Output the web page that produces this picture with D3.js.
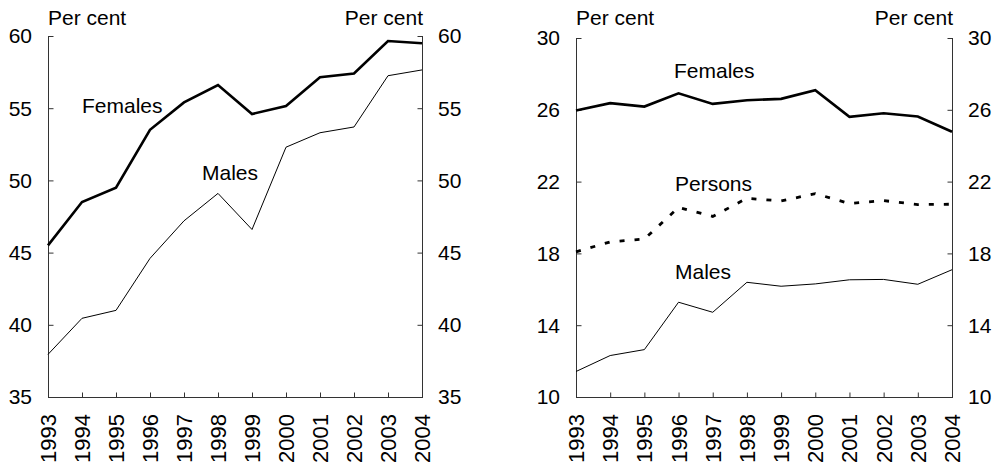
<!DOCTYPE html>
<html>
<head>
<meta charset="utf-8">
<script src="https://cdn.jsdelivr.net/npm/d3@7"></script>
<style>
  html, body { margin: 0; padding: 0; background: #fff; }
  svg { display: block; }
  text { font-family: "Liberation Sans", Arial, sans-serif; font-size: 21px; fill: #000; }
  text.year { font-size: 22px; }
</style>
</head>
<body>
<svg id="chart" width="997" height="464"></svg>
<script>
// Years shared by both panels
const years = [1993, 1994, 1995, 1996, 1997, 1998, 1999, 2000, 2001, 2002, 2003, 2004];

// Left panel series (per cent)
const leftFemales = [45.5, 48.5, 49.5, 53.5, 55.4, 56.6, 54.6, 55.15, 57.15, 57.4, 59.65, 59.5];
const leftMales   = [37.95, 40.45, 41.0, 44.6, 47.2, 49.1, 46.6, 52.3, 53.3, 53.7, 57.25, 57.65];
const leftTicks   = [35, 40, 45, 50, 55, 60];

// Right panel series (per cent)
const rightFemales = [25.96, 26.37, 26.18, 26.92, 26.33, 26.53, 26.61, 27.09, 25.61, 25.81, 25.63, 24.78];
const rightPersons = [18.09, 18.64, 18.8, 20.56, 20.06, 21.07, 20.92, 21.33, 20.78, 20.94, 20.72, 20.74];
const rightMales   = [11.42, 12.31, 12.64, 15.28, 14.72, 16.39, 16.17, 16.3, 16.53, 16.55, 16.28, 17.09];
const rightTicks   = [10, 14, 18, 22, 26, 30];

const svg = d3.select("#chart");
const axisColor = "#333";

function panel(cfg) {
  const x = d3.scaleLinear().domain([years[0], years[years.length - 1]]).range([cfg.x0, cfg.x1]);
  const y = d3.scaleLinear().domain(cfg.domain).range([cfg.yBottom, cfg.yTop]);
  const g = svg.append("g");

  // Left axis with inward ticks
  const la = g.append("g").attr("transform", `translate(${cfg.x0 + 0.5},0)`)
    .call(d3.axisRight(y).tickValues(cfg.ticks).tickSize(5).tickFormat(""));
  // Right axis with inward ticks
  const ra = g.append("g").attr("transform", `translate(${cfg.x1 + 0.5},0)`)
    .call(d3.axisLeft(y).tickValues(cfg.ticks).tickSize(5).tickFormat(""));
  // Bottom axis with ticks pointing up
  const ba = g.append("g").attr("transform", `translate(0,${cfg.yBottom + 0.5})`)
    .call(d3.axisTop(x).tickValues(years).tickSize(5).tickFormat(""));
  [la, ra, ba].forEach(a => {
    a.select(".domain").attr("stroke", axisColor).attr("stroke-width", 1);
    a.selectAll(".tick line").attr("stroke", axisColor).attr("stroke-width", 1);
  });
  la.select(".domain").attr("d", `M0,${cfg.yTop}V${cfg.yBottom}`);
  ra.select(".domain").attr("d", `M0,${cfg.yTop}V${cfg.yBottom}`);
  ba.select(".domain").attr("d", `M${cfg.x0},0H${cfg.x1 + 1}`);

  // Tick labels on both sides
  g.selectAll(".yl").data(cfg.ticks).join("text")
    .attr("x", cfg.x0 - 16).attr("y", d => y(d)).attr("dy", "0.35em")
    .attr("text-anchor", "end").text(d => d);
  g.selectAll(".yr").data(cfg.ticks).join("text")
    .attr("x", cfg.x1 + 16).attr("y", d => y(d)).attr("dy", "0.35em")
    .attr("text-anchor", "start").text(d => d);

  // Year labels, rotated
  g.selectAll(".year").data(years).join("text")
    .attr("class", "year")
    .attr("transform", d => `translate(${x(d) + 8},${cfg.yBottom + 17}) rotate(-90)`)
    .attr("text-anchor", "end").text(d => d);

  // Unit labels
  g.append("text").attr("x", cfg.x0).attr("y", 25).attr("text-anchor", "start").text("Per cent");
  g.append("text").attr("x", cfg.x1 + 1).attr("y", 25).attr("text-anchor", "end").text("Per cent");

  // Series lines
  const line = d3.line().x((d, i) => x(years[i])).y(d => y(d));
  cfg.series.forEach(s => {
    g.append("path").datum(s.values)
      .attr("d", line).attr("fill", "none").attr("stroke", "#000")
      .attr("stroke-width", s.width)
      .attr("stroke-dasharray", s.dash || null);
    g.append("text").attr("x", s.labelX).attr("y", s.labelY).text(s.name);
  });
}

panel({
  x0: 48, x1: 422, yTop: 36, yBottom: 397, domain: [35, 60], ticks: leftTicks,
  series: [
    { name: "Females", values: leftFemales, width: 2.6, labelX: 82, labelY: 113 },
    { name: "Males", values: leftMales, width: 1, labelX: 202, labelY: 180 }
  ]
});

panel({
  x0: 576, x1: 952, yTop: 38, yBottom: 397, domain: [10, 30], ticks: rightTicks,
  series: [
    { name: "Females", values: rightFemales, width: 2.6, labelX: 674, labelY: 78 },
    { name: "Persons", values: rightPersons, width: 2.8, dash: "5,10", labelX: 675, labelY: 191 },
    { name: "Males", values: rightMales, width: 1, labelX: 675, labelY: 279 }
  ]
});
</script>
</body>
</html>
